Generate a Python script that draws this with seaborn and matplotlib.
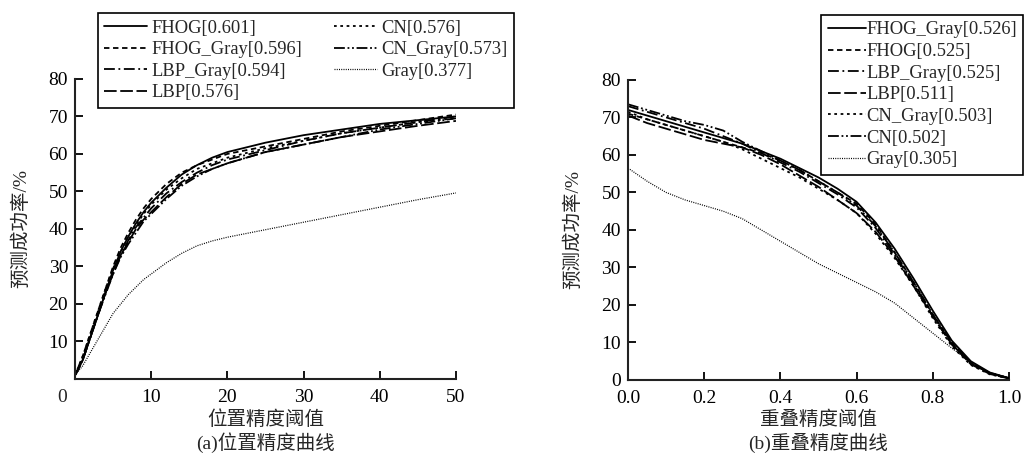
import numpy as np
import pandas as pd
import seaborn as sns
import matplotlib.pyplot as plt

# (a) location precision, x = pixel threshold
x_loc = [0, 1, 2, 3, 4, 5, 6, 7, 8, 9, 10, 12, 14, 16, 18, 20, 25, 30, 35, 40, 45, 50]
loc_names = ['FHOG[0.601]', 'FHOG_Gray[0.596]', 'LBP_Gray[0.594]', 'LBP[0.576]',
             'CN[0.576]', 'CN_Gray[0.573]', 'Gray[0.377]']
loc_fhog = [1, 5, 11, 17, 23, 29, 34, 38, 41.5, 44.5, 47, 51, 54.5, 57, 59, 60.5, 63, 65, 66.5, 68, 69, 70]
loc_fhog_gray = [1, 6, 12, 18, 24, 30, 35, 39, 42.5, 45.5, 48, 52, 55, 57, 58.5, 60, 62, 64, 66, 67.5, 69, 70.5]
loc_lbp_gray = [1, 5, 11, 17, 23, 28.5, 33, 37, 40.5, 43, 45.5, 49.5, 52.5, 55, 57, 58.5, 61, 63.5, 65.5, 67, 68.5, 70]
loc_lbp = [1, 5, 11, 17, 23, 28, 33, 36.5, 40, 42.5, 44.5, 48.5, 52, 54.5, 56, 57.5, 60.5, 62.5, 64.5, 66, 67.5, 68.8]
loc_cn = [1, 6, 12, 18, 24, 29.5, 34, 38, 41, 44, 46.5, 50.5, 53.5, 56, 57.5, 59, 61.5, 63.5, 65.5, 67, 68.5, 69.5]
loc_cn_gray = [1, 5, 11, 17, 22.5, 28, 32.5, 36, 39, 42, 44, 48, 51.5, 54, 56, 57.5, 60.5, 62.5, 64.5, 66.5, 68, 69.5]
loc_gray = [1, 3.5, 7, 10.5, 14, 17.5, 20, 22.5, 24.5, 26.5, 28, 31, 33.5, 35.5, 36.8, 37.8, 39.8, 41.8, 43.8, 45.8, 47.8, 49.6]

# (b) overlap precision, x = IoU threshold
x_ovl = [0, 0.05, 0.1, 0.15, 0.2, 0.25, 0.3, 0.35, 0.4, 0.45, 0.5, 0.55, 0.6, 0.65, 0.7, 0.75, 0.8, 0.85, 0.9, 0.95, 1.0]
ovl_names = ['FHOG_Gray[0.526]', 'FHOG[0.525]', 'LBP_Gray[0.525]', 'LBP[0.511]',
             'CN_Gray[0.503]', 'CN[0.502]', 'Gray[0.305]']
ovl_fhog_gray = [72, 70.5, 69, 67.5, 66, 64.5, 63, 61, 59, 56.5, 54, 51, 47.5, 42, 35, 27, 18.5, 10.5, 5, 2, 0.5]
ovl_fhog = [71, 69.5, 68, 66.5, 65, 63.5, 62, 60.5, 58.5, 56, 53, 50, 47, 41.5, 34, 26, 17.5, 10, 4.5, 1.8, 0.5]
ovl_lbp_gray = [73, 71.5, 70, 68.5, 67, 65, 63, 60.5, 58, 55.5, 52.5, 49.5, 46, 40.5, 33.5, 25.5, 17, 9.5, 4.5, 1.8, 0.5]
ovl_lbp = [70.5, 68.5, 67, 65.5, 64, 63, 62, 60, 57.5, 54.5, 51.5, 48, 44.5, 39.5, 33, 25, 17, 9.5, 4.2, 1.6, 0.4]
ovl_cn_gray = [71.5, 69.5, 68, 66.5, 65, 63.5, 61.5, 59, 56.5, 54, 51, 48, 44.5, 39, 32.5, 25, 16.5, 9, 4, 1.5, 0.4]
ovl_cn = [73.5, 72, 70.5, 69, 68, 66.5, 63.5, 61, 58.5, 56, 53, 50, 46.5, 41, 34, 26, 17.5, 10, 4.5, 1.8, 0.5]
ovl_gray = [56.5, 53, 50, 48, 46.5, 45, 43, 40, 37, 34, 31, 28.5, 26, 23.5, 20.5, 16.5, 12.5, 8.5, 4.8, 2, 0.5]

solid = '-'
dashed = (0, (3, 2))
dashdot = (0, (6, 2, 1, 2))
longdash = (0, (7, 2))
dotted = (0, (1.5, 2))
dashdotdot = (0, (6, 1.5, 1, 1.5, 1, 1.5))
finedot = (0, (0.8, 1))

loc_series = [loc_fhog, loc_fhog_gray, loc_lbp_gray, loc_lbp, loc_cn, loc_cn_gray, loc_gray]
loc_styles = [solid, dashed, dashdot, longdash, dotted, dashdotdot, finedot]
ovl_series = [ovl_fhog_gray, ovl_fhog, ovl_lbp_gray, ovl_lbp, ovl_cn_gray, ovl_cn, ovl_gray]
ovl_styles = [solid, dashed, dashdot, longdash, dotted, dashdotdot, finedot]

sns.set_theme(style='ticks')
plt.rcParams['font.family'] = ['Liberation Serif', 'Noto Sans CJK SC']
plt.rcParams['axes.linewidth'] = 1.5

fig = plt.figure(figsize=(10.29, 4.54), dpi=100)
ax1 = fig.add_axes([0.0729, 0.1652, 0.3702, 0.661])
ax2 = fig.add_axes([0.6103, 0.163, 0.3702, 0.661])


def draw(ax, xs, series, names, styles):
    for ys, name, ls in zip(series, names, styles):
        df = pd.DataFrame({'x': xs, 'y': ys})
        lw = 0.9 if name.startswith('Gray') else 1.3
        sns.lineplot(data=df, x='x', y='y', ax=ax, color='black', linestyle=ls,
                     linewidth=lw, label=name)
    handles, labels = ax.get_legend_handles_labels()
    ax.get_legend().remove()
    sns.despine(ax=ax)
    ax.set_ylabel('预测成功率/%', fontsize=14)
    ax.tick_params(direction='in', labelsize=14, length=6, width=1.3,
                   colors='black', pad=5)
    ax.tick_params(axis='x', pad=7)
    for sp in ax.spines.values():
        sp.set_color('#222222')
    return handles, labels


h1, l1 = draw(ax1, x_loc, loc_series, loc_names, loc_styles)
ax1.set_xlim(0, 50)
ax1.set_ylim(0, 80)
ax1.set_xticks([10, 20, 30, 40, 50])
ax1.set_yticks([10, 20, 30, 40, 50, 60, 70, 80])
ax1.annotate('0', xy=(0, 0), xycoords='axes fraction', xytext=(-9, -7),
             textcoords='offset points', ha='center', va='top', fontsize=14)
ax1.set_xlabel('位置精度阈值\n(a)位置精度曲线', fontsize=14, linespacing=1.2, labelpad=3)
ax1.yaxis.set_label_coords(-0.118, 0.5)

h2, l2 = draw(ax2, x_ovl, ovl_series, ovl_names, ovl_styles)
ax2.set_xlim(0, 1.0)
ax2.set_ylim(0, 80)
ax2.set_xticks([0, 0.2, 0.4, 0.6, 0.8, 1.0])
ax2.set_xticklabels(['0.0', '0.2', '0.4', '0.6', '0.8', '1.0'])
ax2.set_yticks([0, 10, 20, 30, 40, 50, 60, 70, 80])
ax2.set_xlabel('重叠精度阈值\n(b)重叠精度曲线', fontsize=14, linespacing=1.2, labelpad=3)
ax2.yaxis.set_label_coords(-0.12, 0.5)

leg1 = fig.legend(h1, l1, ncol=2, loc='upper left', bbox_to_anchor=(0.095, 0.971),
                  fontsize=13.3, frameon=True, fancybox=False, edgecolor='black',
                  framealpha=1, handlelength=2.3, handletextpad=0.25,
                  labelspacing=0.25, columnspacing=1.75, borderpad=0.35,
                  borderaxespad=0)
leg1.get_frame().set_linewidth(1.2)

leg2 = fig.legend(h2, l2, ncol=1, loc='upper left', bbox_to_anchor=(0.798, 0.967),
                  fontsize=13.3, frameon=True, fancybox=False, edgecolor='black',
                  framealpha=1, handlelength=2.1, handletextpad=0.0,
                  labelspacing=0.25, borderpad=0.35, borderaxespad=0)
leg2.get_frame().set_linewidth(1.2)

fig.savefig('out.png', dpi=100)
